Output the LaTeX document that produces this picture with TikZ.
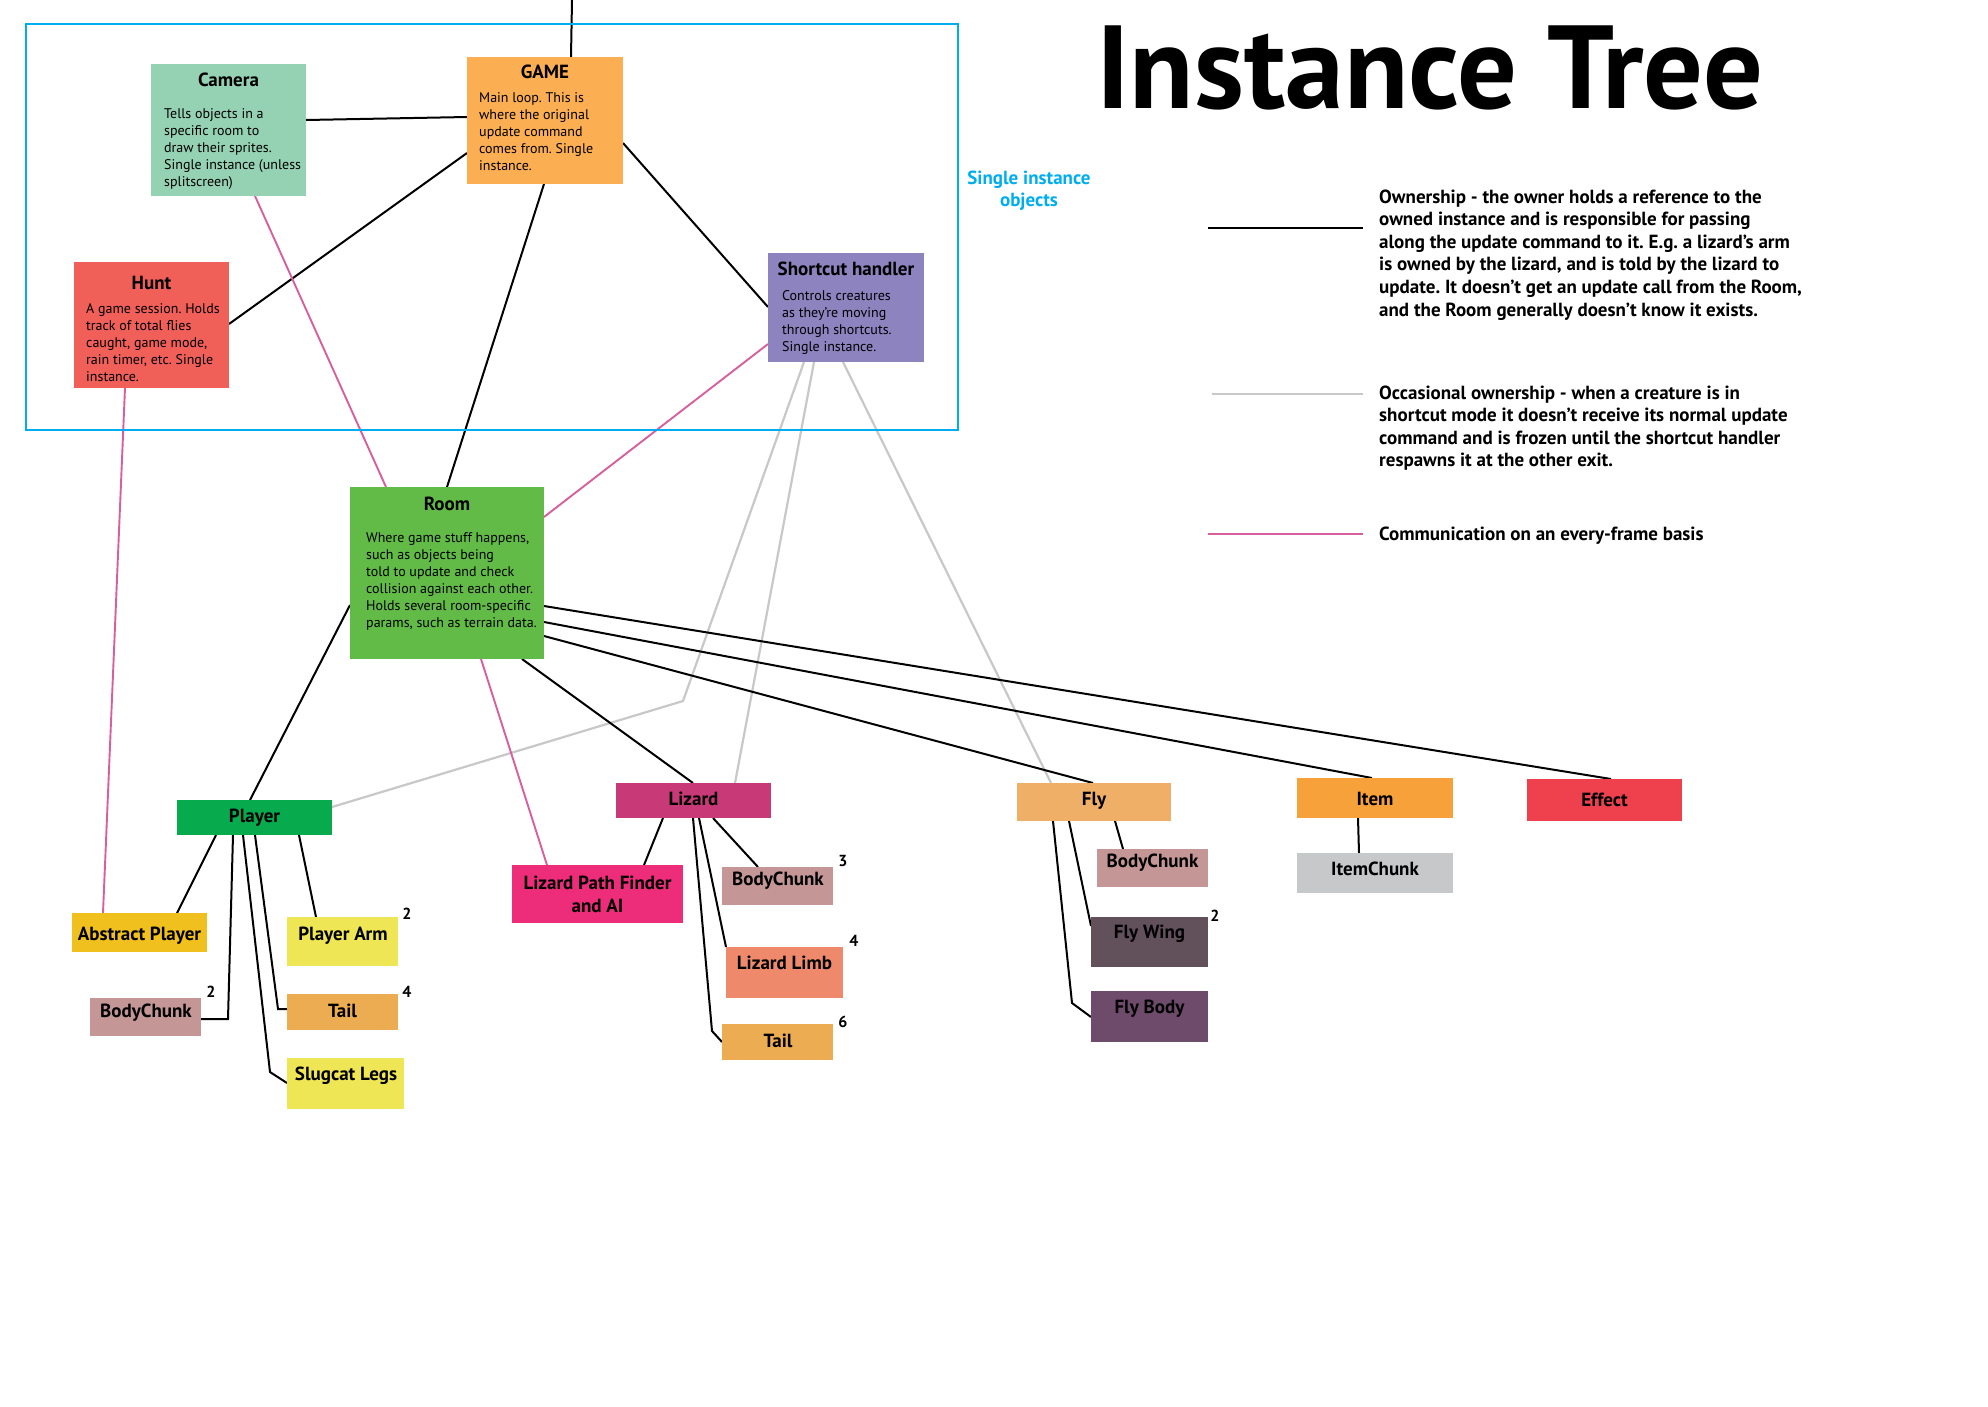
\documentclass[tikz,border=0pt]{standalone}
\usepackage{fontspec}
\setmainfont{PT Sans}
\usetikzlibrary{calc}
\pgfdeclarelayer{bg}
\pgfsetlayers{bg,main}
\frenchspacing

\definecolor{cyanb}{RGB}{0,174,239}
\definecolor{camc}{RGB}{149,209,179}
\definecolor{gamec}{RGB}{251,174,82}
\definecolor{huntc}{RGB}{240,96,88}
\definecolor{shortc}{RGB}{140,131,191}
\definecolor{roomc}{RGB}{98,187,71}
\definecolor{playerc}{RGB}{8,170,78}
\definecolor{abstc}{RGB}{240,192,30}
\definecolor{chunkc}{RGB}{196,150,150}
\definecolor{yelc}{RGB}{238,230,84}
\definecolor{tailc}{RGB}{236,172,81}
\definecolor{lizc}{RGB}{200,58,119}
\definecolor{pathc}{RGB}{238,45,122}
\definecolor{limbc}{RGB}{238,138,107}
\definecolor{flyc}{RGB}{239,175,103}
\definecolor{wingc}{RGB}{98,80,91}
\definecolor{fbodyc}{RGB}{110,74,107}
\definecolor{itemc}{RGB}{247,161,59}
\definecolor{ichunkc}{RGB}{199,200,202}
\definecolor{effc}{RGB}{238,65,77}
\definecolor{compink}{RGB}{214,96,158}
\definecolor{occgray}{RGB}{200,200,200}

\tikzset{
  box/.style={rectangle, inner sep=0pt, outer sep=0pt, anchor=north west},
  lbl/.style={font=\fontsize{19}{23}\selectfont\bfseries, inner sep=0pt, anchor=base},
  ttl/.style={font=\fontsize{19}{22}\selectfont\bfseries, inner sep=0pt, anchor=base},
  desc/.style={font=\fontsize{14}{17.1}\selectfont, inner sep=0pt, anchor=base west},
  legtext/.style={font=\fontsize{19}{22.6}\selectfont\bfseries, inner sep=0pt, anchor=base west},
  num/.style={font=\fontsize{16}{18}\selectfont\bfseries, inner sep=0pt, anchor=base},
  own/.style={draw=black, line width=2pt},
  occ/.style={draw=occgray, line width=2.2pt},
  com/.style={draw=compink, line width=1.9pt},
}
\newcommand\bx[6]{\node[box,fill=#2,minimum width={(#5-#3)*1pt},minimum height={(#6-#4)*1pt}] (#1) at (#3,#4) {};}

\begin{document}
\begin{tikzpicture}[x=1pt,y=-1pt]
\useasboundingbox (0,0) rectangle (1988,1406);

% single instance region
\node[box, draw=cyanb, line width=2.5pt, minimum width=932pt, minimum height=406pt] (single) at (26,24) {};
\node[font=\fontsize{19}{22}\selectfont\bfseries, text=cyanb, inner sep=0pt, anchor=base] (singlelbl) at (1029,184)
  {\parbox[t]{200pt}{\centering Single instance\\objects}};

% title
\node[inner sep=0pt, anchor=base west] (title) at (1096,108) {\resizebox{667pt}{!}{\bfseries Instance Tree}};

% big boxes
\bx{camera}{camc}{151}{64}{306}{196}
\bx{game}{gamec}{467}{57}{623}{184}
\bx{hunt}{huntc}{74}{262}{229}{388}
\bx{shortcut}{shortc}{768}{253}{924}{362}
\bx{room}{roomc}{350}{487}{544}{659}

\node[ttl] (tcamera) at (228.5,86) {Camera};
\node[desc] (dcamera) at (164,118) {\parbox[t]{200pt}{\raggedright Tells objects in a\\specific room to\\draw their sprites.\\Single instance (unless\\splitscreen)}};
\node[ttl] (tgame) at (545,78) {GAME};
\node[desc] (dgame) at (479,102) {\parbox[t]{200pt}{\raggedright Main loop. This is\\where the original\\update command\\comes from. Single\\instance.}};
\node[ttl] (thunt) at (151.5,289) {Hunt};
\node[desc] (dhunt) at (86,313) {\parbox[t]{200pt}{\raggedright A game session. Holds\\track of total flies\\caught, game mode,\\rain timer, etc. Single\\instance.}};
\node[ttl] (tshortcut) at (846,275) {Shortcut handler};
\node[desc] (dshortcut) at (782,300) {\parbox[t]{200pt}{\raggedright Controls creatures\\as they’re moving\\through shortcuts.\\Single instance.}};
\node[ttl] (troom) at (447,510) {Room};
\node[desc] (droom) at (366,542) {\parbox[t]{250pt}{\raggedright Where game stuff happens,\\such as objects being\\told to update and check\\collision against each other.\\Holds several room-specific\\params, such as terrain data.}};

% small boxes
\bx{player}{playerc}{177}{800}{332}{835}
\bx{abstract}{abstc}{72}{913}{207}{952}
\bx{pbody}{chunkc}{90}{998}{201}{1036}
\bx{parm}{yelc}{287}{917}{398}{966}
\bx{ptail}{tailc}{287}{994}{398}{1030}
\bx{legs}{yelc}{287}{1058}{404}{1109}
\bx{lizard}{lizc}{616}{783}{771}{818}
\bx{lpath}{pathc}{512}{865}{683}{923}
\bx{lbody}{chunkc}{722}{867}{833}{905}
\bx{llimb}{limbc}{726}{947}{843}{998}
\bx{ltail}{tailc}{722}{1024}{833}{1060}
\bx{fly}{flyc}{1017}{783}{1171}{821}
\bx{fbody}{chunkc}{1097}{849}{1208}{887}
\bx{fwing}{wingc}{1091}{917}{1208}{967}
\bx{fflybody}{fbodyc}{1091}{991}{1208}{1042}
\bx{item}{itemc}{1297}{778}{1453}{818}
\bx{ichunk}{ichunkc}{1297}{853}{1453}{893}
\bx{effect}{effc}{1527}{779}{1682}{821}

\node[lbl] (tplayer) at (254.5,822) {Player};
\node[lbl] (tabstract) at (139.5,940) {Abstract Player};
\node[lbl] (tpbody) at (146,1017) {BodyChunk};
\node[lbl] (tparm) at (343,940) {Player Arm};
\node[lbl] (tptail) at (342.5,1017) {Tail};
\node[lbl] (tlegs) at (346,1080) {Slugcat Legs};
\node[lbl] (tlizard) at (693.5,805) {Lizard};
\node[lbl] (tlpath) at (597.5,889) {\parbox[t]{200pt}{\centering Lizard Path Finder\\and AI}};
\node[lbl] (tlbody) at (778,885) {BodyChunk};
\node[lbl] (tllimb) at (784.5,969) {Lizard Limb};
\node[lbl] (tltail) at (778,1047) {Tail};
\node[lbl] (tfly) at (1094,805) {Fly};
\node[lbl] (tfbody) at (1152.5,867) {BodyChunk};
\node[lbl] (tfwing) at (1149.5,938) {Fly Wing};
\node[lbl] (tfflybody) at (1149.5,1013) {Fly Body};
\node[lbl] (titem) at (1375,805) {Item};
\node[lbl] (tichunk) at (1375,875) {ItemChunk};
\node[lbl] (teffect) at (1604.5,806) {Effect};

% counts
\node[num] (n1) at (211,997) {2};
\node[num] (n2) at (407,919) {2};
\node[num] (n3) at (407,997) {4};
\node[num] (n4) at (843,866) {3};
\node[num] (n5) at (854,946) {4};
\node[num] (n6) at (843,1027) {6};
\node[num] (n7) at (1215,921) {2};

% legend
\coordinate (la1) at (1208,228); \coordinate (la2) at (1363,228);
\coordinate (lb1) at (1212,394); \coordinate (lb2) at (1363,394);
\coordinate (lc1) at (1208,534); \coordinate (lc2) at (1363,534);
\draw[black, line width=2.6pt] (la1) -- (la2);
\draw[occgray, line width=2.4pt] (lb1) -- (lb2);
\draw[compink, line width=2.4pt] (lc1) -- (lc2);
\node[legtext] (leg1) at (1379,203) {\parbox[t]{520pt}{\raggedright Ownership - the owner holds a reference to the\\owned instance and is responsible for passing\\along the update command to it. E.g. a lizard’s arm\\is owned by the lizard, and is told by the lizard to\\update. It doesn’t get an update call from the Room,\\and the Room generally doesn’t know it exists.}};
\node[legtext] (leg2) at (1379,399) {\parbox[t]{520pt}{\raggedright Occasional ownership - when a creature is in\\shortcut mode it doesn’t receive its normal update\\command and is frozen until the shortcut handler\\respawns it at the other exit.}};
\node[legtext] (leg3) at (1379,540) {Communication on an every-frame basis};

% connectors
\coordinate (topend) at (572,0);
\begin{pgfonlayer}{bg}
\fill[white] (0,0) rectangle (1988,1406);
\draw[own] (topend) -- ([xshift=104pt]game.north west);
\draw[own] ([yshift=-60pt]game.north west) -- ([yshift=-56pt]camera.north east);
\draw[own] ([yshift=-96pt]game.north west) -- ([yshift=-62pt]hunt.north east);
\draw[own] ([xshift=77pt]game.south west) -- ([xshift=97pt]room.north west);
\draw[own] ([yshift=-86pt]game.north east) -- ([yshift=-54pt]shortcut.north west);
\draw[com] ([xshift=104pt]camera.south west) -- ([xshift=36pt]room.north west);
\draw[com] ([xshift=51pt]hunt.south west) -- ([xshift=31pt]abstract.north west);
\draw[com] ([yshift=-91pt]shortcut.north west) -- ([yshift=-30pt]room.north east);
\draw[occ, line join=round] ([xshift=36pt]shortcut.south west) -- (683,701) -- ([yshift=-7pt]player.north east);
\draw[occ] ([xshift=46pt]shortcut.south west) -- ([xshift=119pt]lizard.north west);
\draw[occ] ([xshift=75pt]shortcut.south west) -- ([xshift=34pt]fly.north west);
\draw[own] ([yshift=-118pt]room.north west) -- ([xshift=73pt]player.north west);
\draw[own] ([xshift=172pt]room.south west) -- ([xshift=77pt]lizard.north west);
\draw[com] ([xshift=131pt]room.south west) -- ([xshift=35pt]lpath.north west);
\draw[own] ([yshift=-149pt]room.north east) -- ([xshift=76pt]fly.north west);
\draw[own] ([yshift=-135pt]room.north east) -- ([xshift=75pt]item.north west);
\draw[own] ([yshift=-119pt]room.north east) -- ([xshift=84pt]effect.north west);
\draw[own] ([xshift=39pt]player.south west) -- ([xshift=105pt]abstract.north west);
\draw[own] ([xshift=56pt]player.south west) -- (228,1019) -- ([yshift=-21pt]pbody.north east);
\draw[own] ([xshift=66pt]player.south west) -- (270,1072) -- ([yshift=-25pt]legs.north west);
\draw[own] ([xshift=78pt]player.south west) -- (278,1009) -- ([yshift=-15pt]ptail.north west);
\draw[own] ([xshift=122pt]player.south west) -- ([xshift=29pt]parm.north west);
\draw[own] ([xshift=47pt]lizard.south west) -- ([xshift=132pt]lpath.north west);
\draw[own] ([xshift=97pt]lizard.south west) -- ([xshift=36pt]lbody.north west);
\draw[own] ([xshift=83pt]lizard.south west) -- (llimb.north west);
\draw[own] ([xshift=77pt]lizard.south west) -- (712,1031) -- ([yshift=-18pt]ltail.north west);
\draw[own] ([xshift=98pt]fly.south west) -- ([xshift=26pt]fbody.north west);
\draw[own] ([xshift=52pt]fly.south west) -- ([yshift=-9pt]fwing.north west);
\draw[own] ([xshift=36pt]fly.south west) -- (1072,1003) -- ([yshift=-26pt]fflybody.north west);
\draw[own] ([xshift=61pt]item.south west) -- ([xshift=62pt]ichunk.north west);
\end{pgfonlayer}
\end{tikzpicture}
\end{document}
